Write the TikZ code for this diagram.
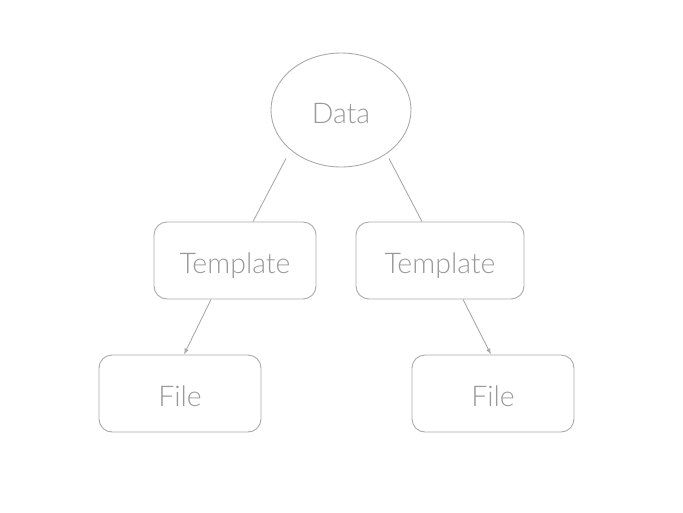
\documentclass[tikz,border=0pt]{standalone}
\usepackage{fontspec}
\setmainfont{Lato}[UprightFont=* Light]
\usetikzlibrary{shapes.geometric,arrows.meta}
\definecolor{linegray}{HTML}{AAAAAA}
\definecolor{textgray}{HTML}{999999}
\tikzset{
  box/.style={draw=linegray, line width=0.9pt, rounded corners=13pt,
    minimum width=162pt, minimum height=77pt, text=textgray,
    text height=26pt, text depth=0pt, font=\fontsize{28.5}{31}\selectfont},
  blob/.style={ellipse, draw=linegray, line width=0.9pt,
    minimum width=140pt, minimum height=114pt, text=textgray,
    text height=26pt, text depth=0pt, font=\fontsize{28.5}{31}\selectfont},
  link/.style={draw=linegray, line width=0.9pt},
  flow/.style={link, -{Latex[length=6pt,width=4.5pt]}}
}
\begin{document}
\begin{tikzpicture}[x=1pt, y=-1pt]
  \useasboundingbox (0,0) rectangle (683,512);

  % ---------- Data source ----------
  \node[blob] (data) at (341,110) {Data};

  % ---------- Templates ----------
  \node[box] (tplL) at (235,260.5) {Template};
  \node[box, minimum width=168pt] (tplR) at (440,260.5) {Template};

  % ---------- Output files ----------
  \node[box] (fileL) at (180,393.5) {File};
  \node[box] (fileR) at (493,393.5) {File};

  % ---------- Connectors ----------
  \draw[link] ([shift={(-55,-9)}]data.south) -- ([xshift=18pt]tplL.north);
  \draw[link] ([shift={(48,-9)}]data.south) -- ([xshift=-18pt]tplR.north);
  \draw[flow] ([xshift=-24pt]tplL.south) -- ([xshift=4pt]fileL.north);
  \draw[flow] ([xshift=23pt]tplR.south) -- ([xshift=-2pt]fileR.north);
\end{tikzpicture}
\end{document}
